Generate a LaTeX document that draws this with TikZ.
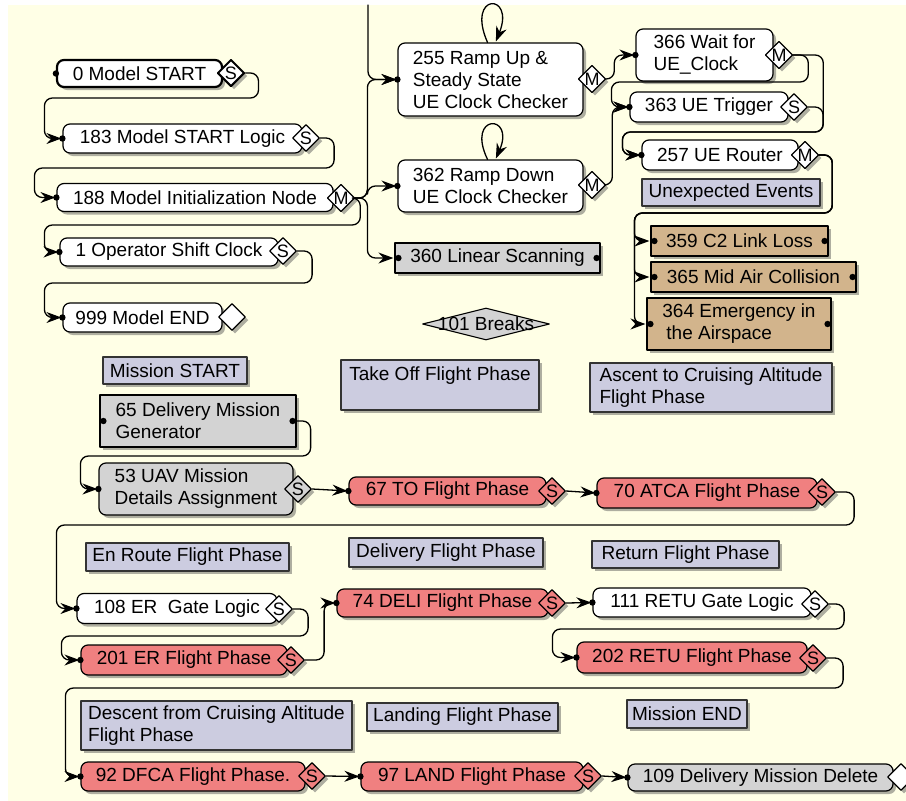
\documentclass[tikz,border=0pt]{standalone}
\usepackage{fontspec}
\setmainfont{Liberation Sans}
\usepackage{tikz}
\usetikzlibrary{arrows.meta,shapes.geometric,shadows}

\definecolor{paper}{RGB}{255,255,230}
\definecolor{phasecol}{RGB}{204,204,224}
\definecolor{redcol}{RGB}{240,128,128}
\definecolor{graycol}{RGB}{211,211,211}
\definecolor{tancol}{RGB}{210,180,140}

\tikzset{
  shadowed/.style={drop shadow={shadow xshift=3pt,shadow yshift=-3pt,opacity=.45,fill=black!70}},
  flow/.style={draw,line width=1.2pt,rounded corners=7pt,fill=white,inner sep=2pt,align=left,shadowed},
  redflow/.style={flow,fill=redcol},
  grayflow/.style={flow,fill=graycol},
  grayrect/.style={draw,line width=1.2pt,fill=graycol,inner sep=2pt,align=left,shadowed},
  tanrect/.style={grayrect,fill=tancol},
  phase/.style={draw=black!80,line width=1.6pt,fill=phasecol,inner sep=3pt,align=left,shadowed},
  port/.style={draw,diamond,line width=1.2pt,fill=white,minimum width=27pt,minimum height=27pt,inner sep=0pt,font=\fontsize{18}{18}\selectfont,shadowed},
  redport/.style={port,fill=redcol},
  grayport/.style={port,fill=graycol},
  link/.style={draw,line width=1.3pt,rounded corners=8pt,->,shorten >=1pt},
}

\begin{document}
\begin{tikzpicture}[line cap=round,line join=round,>={Stealth[length=15pt,width=11pt,inset=5pt,sharp]},x=1pt,y=-1pt,font=\fontsize{19}{22}\selectfont]
\useasboundingbox (0,0) rectangle (906,801);
\fill[white] (0,0) rectangle (906,801);
\fill[paper] (8,5) rectangle (906,801);

% model start column
\node[flow,line width=2.2pt,minimum width=165pt,minimum height=27pt] (n0) at (139.5,73.5) {0 Model START};
\node[flow,minimum width=239pt,minimum height=29pt] (n183) at (182.5,138.5) {183 Model START Logic};
\node[flow,minimum width=276pt,minimum height=28pt] (n188) at (195,197.5) {188 Model Initialization Node};
\node[flow,minimum width=218pt,minimum height=28pt] (n1) at (169,252) {1 Operator Shift Clock};
\node[flow,minimum width=159pt,minimum height=29pt] (n999) at (142.5,317.5) {999 Model END};

\node[port,line width=2pt] (d0) at (231,73) {S};
\node[port] (d183) at (306,138) {S};
\node[port] (d188) at (341,198) {M};
\node[port] (d1) at (283,251) {S};
\node[port] (d999) at (232,317) {};

% clock checkers
\node[flow,minimum width=185pt,minimum height=73pt] (n255) at (490.5,79.5) {255 Ramp Up \&\\Steady State\\UE Clock Checker};
\node[flow,minimum width=185pt,minimum height=52pt] (n362) at (490.5,186) {362 Ramp Down\\UE Clock Checker};
\node[grayrect,minimum width=205pt,minimum height=30pt] (n360) at (497.5,258) {360 Linear Scanning};
\node[draw,diamond,line width=1.1pt,fill=graycol,minimum width=127pt,minimum height=32pt,inner sep=0pt,label=center:{101 Breaks}] (n101) at (486,324) {};

\node[port] (d255) at (592,79) {M};
\node[port] (d362) at (592,185) {M};

% unexpected events
\node[flow,minimum width=137pt,minimum height=52pt] (n366) at (704.5,55) {366 Wait for\\UE\_Clock};
\node[flow,minimum width=158pt,minimum height=30pt] (n363) at (709,107) {363 UE Trigger};
\node[flow,minimum width=156pt,minimum height=30pt] (n257) at (720,155) {257 UE Router};
\node[phase,minimum width=178pt,minimum height=27pt] (lbUnexp) at (731,192.5) {Unexpected Events};
\node[tanrect,minimum width=177pt,minimum height=30pt] (n359) at (739.5,241) {359 C2 Link Loss};
\node[tanrect,minimum width=205pt,minimum height=30pt] (n365) at (753.5,277) {365 Mid Air Collision};
\node[tanrect,minimum width=184pt,minimum height=52pt] (n364) at (739,324) {364 Emergency in\\\hspace{4pt}the Airspace};

\node[port] (d366) at (779,55) {M};
\node[port] (d363) at (794,107) {S};
\node[port] (d257) at (805,155) {M};

% mission phases
\node[phase,minimum width=144pt,minimum height=27pt] (lbStart) at (175,370.5) {Mission START};
\node[phase,minimum width=198pt,minimum height=50pt] (lbTakeOff) at (440,385) {Take Off Flight Phase\\\mbox{}};
\node[phase,minimum width=242pt,minimum height=49pt] (lbAscent) at (711,387.5) {Ascent to Cruising Altitude\\Flight Phase};
\node[phase,minimum width=203pt,minimum height=28pt] (lbEnRoute) at (187.5,557) {En Route Flight Phase};
\node[phase,minimum width=194pt,minimum height=29pt] (lbDelivery) at (446,552.5) {Delivery Flight Phase};
\node[phase,minimum width=187pt,minimum height=27pt] (lbReturn) at (685.5,554.5) {Return Flight Phase};
\node[phase,minimum width=271pt,minimum height=49pt] (lbDescent) at (216.5,725.5) {Descent from Cruising Altitude\\Flight Phase};
\node[phase,minimum width=191pt,minimum height=28pt] (lbLanding) at (462.5,717) {Landing Flight Phase};
\node[phase,minimum width=120pt,minimum height=28pt] (lbEnd) at (687,714) {Mission END};

% mission flow
\node[grayrect,minimum width=196pt,minimum height=52pt] (n65) at (198,421) {65 Delivery Mission\\Generator};
\node[grayflow,minimum width=194pt,minimum height=52pt] (n53) at (196,489) {53 UAV Mission\\Details Assignment};
\node[redflow,minimum width=197pt,minimum height=28pt] (n67) at (447.5,491) {67 TO Flight Phase};
\node[redflow,minimum width=220pt,minimum height=30pt] (n70) at (707,493) {70 ATCA Flight Phase};
\node[flow,minimum width=200pt,minimum height=30pt] (n108) at (177,608.5) {108 ER\ \ Gate Logic};
\node[redflow,minimum width=211pt,minimum height=28pt] (n74) at (442.5,603) {74 DELI Flight Phase};
\node[flow,minimum width=218pt,minimum height=29pt] (n111) at (702,602.5) {111 RETU Gate Logic};
\node[redflow,minimum width=206pt,minimum height=30pt] (n201) at (184,660) {201 ER Flight Phase};
\node[redflow,minimum width=230pt,minimum height=31pt] (n202) at (692,657.5) {202 RETU Flight Phase};
\node[redflow,minimum width=224pt,minimum height=29pt] (n92) at (193,776.5) {92 DFCA Flight Phase.};
\node[redflow,minimum width=222pt,minimum height=29pt] (n97) at (472,776.5) {97 LAND Flight Phase};
\node[grayflow,minimum width=265pt,minimum height=27pt] (n109) at (760.5,777.5) {109 Delivery Mission Delete};

\node[grayport] (d53) at (298,489) {S};
\node[redport] (d67) at (552,491) {S};
\node[redport] (d70) at (822,492) {S};
\node[port] (d108) at (279,609) {S};
\node[redport] (d74) at (552,603) {S};
\node[port] (d111) at (815,604) {S};
\node[redport] (d201) at (291,660) {S};
\node[redport] (d202) at (813,658) {S};
\node[redport] (d92) at (312,776) {S};
\node[redport] (d97) at (588,776) {S};
\node[port] (d109) at (901,777) {};

% connectors, top part
\coordinate (trunk) at (368,5);
\draw[link] (trunk) |- (n255.west);
\draw[link] (d0.east) -| ++(13,25) -| ([xshift=-18pt]n183.west) -- (n183.west);
\draw[link] (d183.east) -| ++(14,30) -| ([xshift=-22pt]n188.west) -- (n188.west);
\draw[link] (d188.east) -| ++(5,27) -| ([xshift=-15pt]n1.west) -- (n1.west);
\draw[link] (d188.east) -| ([xshift=-30pt]n255.west) -- (n255.west);
\draw[link] (d188.east) -| ([xshift=-30pt]n362.west) -- (n362.west);
\draw[link] (d188.east) -| ([xshift=-27pt]n360.west) -- (n360.west);
\draw[link] (d1.east) -| ++(15,32) -| ([xshift=-18pt]n999.west) -- (n999.west);

\draw[link] ([xshift=-3pt]n255.north) .. controls +(-22,-50) and +(20,-50) .. ([xshift=5pt]n255.north);
\draw[link] ([xshift=-3pt]n362.north) .. controls +(-22,-46) and +(20,-46) .. ([xshift=5pt]n362.north);
\draw[link] (d255.east) -- ++(8,0) |- (n366.west);
\draw[link] (d362.east) -- ++(6,0) |- (n363.west);
\draw[link] (d366.east) -| ++(15,27) -| ([xshift=-18pt]n363.west) -- (n363.west);
\draw[link] (d366.east) -| ++(30,77) -| ([xshift=-19pt]n257.west) -- (n257.west);
\draw[link] (d363.east) -| ++(15,25) -| ([xshift=-19pt]n257.west) -- (n257.west);
\draw[link] (d257.east) -| ++(13,58) -| ([xshift=-16pt]n359.west) -- (n359.west);
\draw[link] (d257.east) -| ++(13,58) -| ([xshift=-16pt]n365.west) -- (n365.west);
\draw[link] (d257.east) -| ++(13,58) -| ([xshift=-12pt]n364.west) -- (n364.west);

% connectors, mission part
\draw[link] (n65.east) -| ++(14,35) -| ([xshift=-18pt]n53.west) -- (n53.west);
\draw[link] (d53.east) -- (n67.west);
\draw[link] (d67.east) -- (n70.west);
\draw[link] (d70.east) -| ++(18,33) -| ([xshift=-20pt]n108.west) -- (n108.west);
\draw[link] (d108.east) -| ++(15,27) -| ([xshift=-19pt]n201.west) -- (n201.west);
\draw[link] (d201.east) -- ++(19,0) |- (n74.west);
\draw[link] (d74.east) -- (n111.west);
\draw[link] (d111.east) -| ++(15,25) -| ([xshift=-24pt]n202.west) -- (n202.west);
\draw[link] (d202.east) -| ++(16,30) -| ([xshift=-15pt]n92.west) -- (n92.west);
\draw[link] (d92.east) -- (n97.west);
\draw[link] (d97.east) -- (n109.west);

% port dots
\foreach \n in {n0,n183,n188,n1,n999,n255,n362,n366,n363,n257,n53,n67,n70,n108,n74,n111,n201,n202,n92,n97,n109}
  \fill (\n.west) circle (3.2pt);
\foreach \n in {n360,n359,n365,n364,n65}{
  \fill ([xshift=4pt]\n.west) circle (3.2pt);
  \fill ([xshift=-4pt]\n.east) circle (3.2pt);
}
\end{tikzpicture}
\end{document}
